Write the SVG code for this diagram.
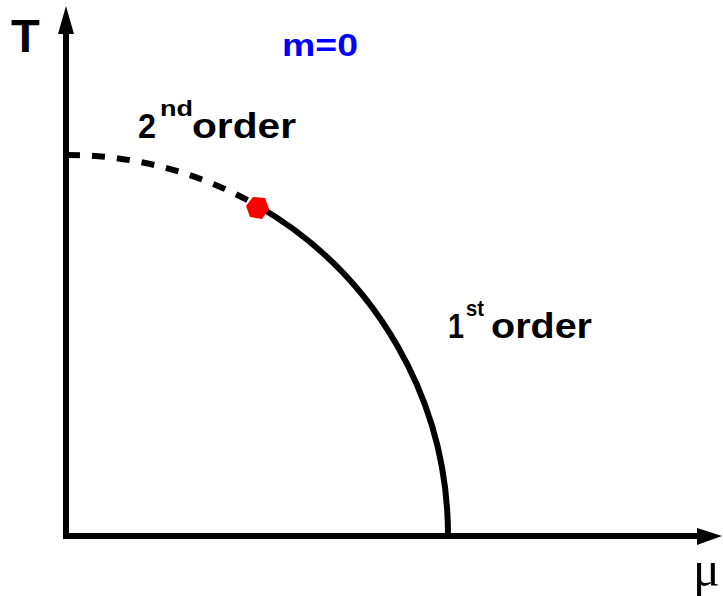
<svg xmlns="http://www.w3.org/2000/svg" width="723" height="596" viewBox="0 0 723 596">
<style>
.lbl{font-family:"Liberation Sans",Arial,sans-serif;font-weight:bold;fill:#000}
.ax{stroke:#000;stroke-width:6;fill:none}
.curve{stroke:#000;stroke-width:6;fill:none}
</style>
<rect width="723" height="596" fill="#fff"/>
<g id="axes">
<line class="ax" x1="66" y1="539" x2="66" y2="30"/>
<polygon points="66,6 58,34 74,34" fill="#000"/>
<line class="ax" x1="63" y1="536" x2="700" y2="536"/>
<polygon points="722,536 697,528 697,545" fill="#000"/>
</g>
<g id="connectors">
<path class="curve" d="M67 155 A381 381 0 0 1 258 206" stroke-dasharray="13 12"/>
<path class="curve" d="M258 206 A381 381 0 0 1 448 537"/>
</g>
<g id="critical-point">
<polygon points="269,209 262,219 250,217 246,206 253,197 265,198" fill="#ff0000"/>
</g>
<g id="labels">
<text class="lbl" x="11" y="52" font-size="47">T</text>
<text class="lbl" x="282" y="56" font-size="32" fill="#0000ff" style="fill:#0000ff" textLength="76" lengthAdjust="spacingAndGlyphs">m=0</text>
<text class="lbl" x="138" y="138" font-size="35" textLength="18" lengthAdjust="spacingAndGlyphs">2</text>
<text class="lbl" x="160" y="116" font-size="22" textLength="33" lengthAdjust="spacingAndGlyphs">nd</text>
<text class="lbl" x="192" y="138" font-size="35" textLength="104" lengthAdjust="spacingAndGlyphs">order</text>
<text class="lbl" x="448" y="338" font-size="35" textLength="16" lengthAdjust="spacingAndGlyphs">1</text>
<text class="lbl" x="466" y="316" font-size="22" textLength="18" lengthAdjust="spacingAndGlyphs">st</text>
<text class="lbl" x="491" y="338" font-size="35" textLength="101" lengthAdjust="spacingAndGlyphs">order</text>
<text x="693" y="586" font-size="50" font-family="Liberation Serif,'Times New Roman',serif" fill="#000">μ</text>
</g>
</svg>
